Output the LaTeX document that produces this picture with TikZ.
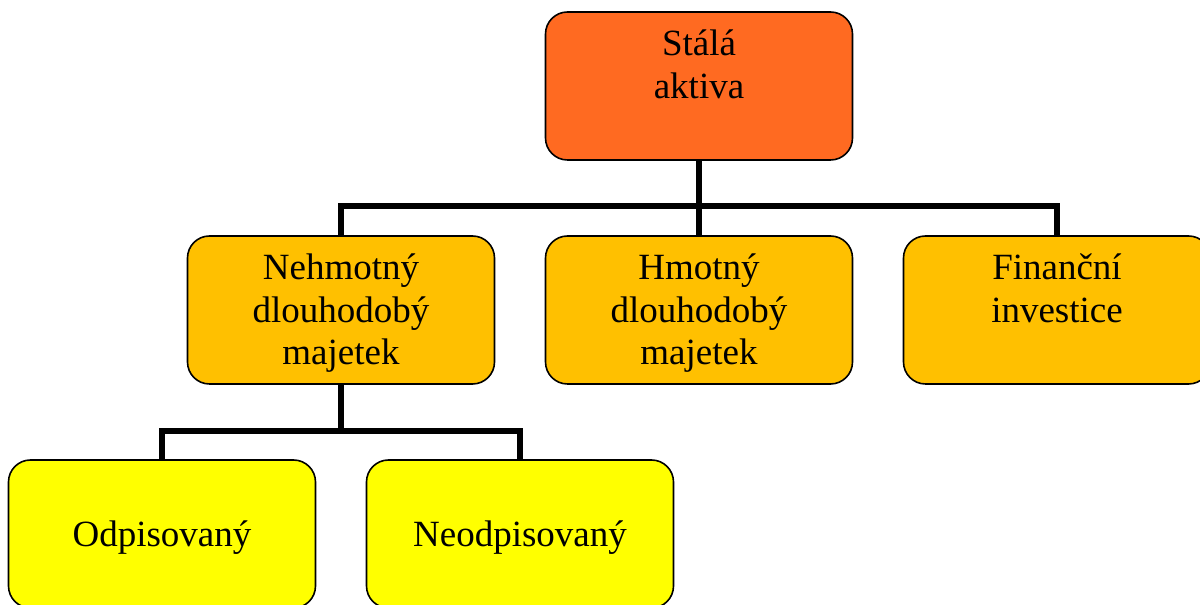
\documentclass[tikz,border=0pt]{standalone}
\usepackage{fontspec}
\setmainfont{Liberation Serif}
\usepackage{tikz}
\definecolor{stalafill}{HTML}{FF6A21}
\definecolor{skupfill}{HTML}{FFC000}
\definecolor{druhfill}{HTML}{FFFF00}

\begin{document}
\begin{tikzpicture}
  [x=0.5pt,y=0.5pt,
   every node/.style={draw=black,line width=0.8pt,rounded corners=11pt,inner sep=0pt,
     align=center,text width=153.5pt,font=\fontsize{18.5pt}{21.25pt}\selectfont},
   horni/.style={text height=22pt,text depth=52pt},
   dolni/.style={text height=43.5pt,text depth=30.5pt},
   spoj/.style={line width=2.6pt}]
  \clip (0,0) rectangle (1200,605);
  \node[horni,fill=stalafill] (stala) at (699,519) {Stálá\\aktiva};
  \node[horni,fill=skupfill] (nehm) at (341,295) {Nehmotný\\dlouhodobý\\majetek};
  \node[horni,fill=skupfill] (hmot) at (699,295) {Hmotný\\dlouhodobý\\majetek};
  \node[horni,fill=skupfill] (fin) at (1057,295) {Finanční\\investice};
  \node[dolni,fill=druhfill] (odp) at (162,71) {Odpisovaný};
  \node[dolni,fill=druhfill] (neodp) at (520,71) {Neodpisovaný};
  \coordinate (j1) at (699,399);
  \coordinate (j2) at (341,174);
  \draw[spoj] (stala.south) -- (j1);
  \draw[spoj] (nehm.south) -- (j2);
  \foreach \from/\to in {j1/nehm,j1/hmot,j1/fin,j2/odp,j2/neodp}
  \draw[spoj] (\from) -| (\to.north);
\end{tikzpicture}
\end{document}
